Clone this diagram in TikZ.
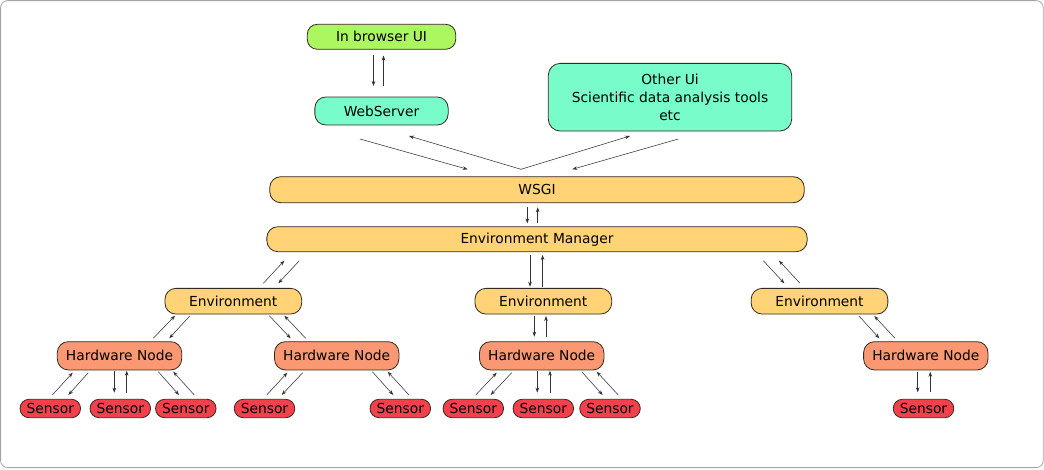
\documentclass[tikz,border=0pt]{standalone}
\usepackage{fontspec}
\setmainfont{DejaVu Sans}
\usetikzlibrary{arrows.meta,calc}
\definecolor{cgreen}{RGB}{172,246,96}
\definecolor{caqua}{RGB}{120,253,202}
\definecolor{corange}{RGB}{255,211,118}
\definecolor{csalmon}{RGB}{250,152,115}
\definecolor{cred}{RGB}{242,64,76}
\definecolor{cedge}{RGB}{50,42,30}
\definecolor{cframe}{RGB}{165,165,165}
\begin{document}
\begin{tikzpicture}[x=1pt,y=-1pt,
  box/.style={draw=cedge,line width=0.8pt,inner sep=0pt,align=center,
    font=\fontsize{13.8}{18}\selectfont},
  ui/.style={box,fill=cgreen,rounded corners=10pt},
  srv/.style={box,fill=caqua,rounded corners=11pt},
  bar/.style={box,fill=corange,rounded corners=11pt},
  hwbox/.style={box,fill=csalmon,rounded corners=11pt,minimum width=124.4pt,minimum height=28.3pt},
  envbox/.style={box,fill=corange,rounded corners=11pt,minimum width=136.7pt,minimum height=25.7pt},
  sens/.style={box,fill=cred,rounded corners=9pt,minimum width=60.5pt,minimum height=18.4pt},
  arr/.style={draw=black!80,line width=0.55pt,-{Stealth[length=5pt,width=3.6pt]}}]
\useasboundingbox (0,0) rectangle (1044,469);
\draw[cframe,line width=0.8pt,rounded corners=7pt] (0.6,0.6) rectangle (1043.2,467.6);

% nodes
\node[ui,minimum width=148.4pt,minimum height=25pt] (bui) at (381.5,36.8) {In browser UI};
\node[srv,minimum width=133.3pt,minimum height=28pt] (web) at (381.5,111) {WebServer};
\node[srv,rounded corners=12pt,minimum width=243.4pt,minimum height=67.7pt] (other) at (670,97.2)
  {Other Ui\\Scientific data analysis tools\\etc};
\node[bar,minimum width=534.5pt,minimum height=26pt] (wsgi) at (537,189.7) {WSGI};
\node[bar,minimum width=540.3pt,minimum height=25pt] (em) at (537,239.2) {Environment Manager};
\node[envbox] (envL) at (233.3,301.2) {Environment};
\node[envbox] (envM) at (543.3,301.2) {Environment};
\node[envbox] (envR) at (819.5,301.2) {Environment};
\node[hwbox] (hw1) at (119.5,355.8) {Hardware Node};
\node[hwbox] (hw2) at (336.7,355.8) {Hardware Node};
\node[hwbox] (hw3) at (541.7,355.8) {Hardware Node};
\node[hwbox] (hw4) at (925.8,355.8) {Hardware Node};
\node[sens] (s1) at (50.3,408.5) {Sensor};
\node[sens] (s2) at (120.3,408.5) {Sensor};
\node[sens] (s3) at (185.8,408.5) {Sensor};
\node[sens] (s4) at (264.5,408.5) {Sensor};
\node[sens] (s5) at (400.3,408.5) {Sensor};
\node[sens] (s6) at (473.3,408.5) {Sensor};
\node[sens] (s7) at (543.3,408.5) {Sensor};
\node[sens] (s8) at (610,408.5) {Sensor};
\node[sens] (s9) at (923.5,408.5) {Sensor};

% browser <-> webserver
\draw[arr] ($(bui)+(-8,18.2)$) -- ($(web)+(-8,-25)$);
\draw[arr] ($(web)+(2,-25)$) -- ($(bui)+(2,18.7)$);
% webserver / other <-> wsgi
\draw[arr] ($(web)+(-21.5,28)$) -- ($(wsgi)+(-69.3,-20.4)$);
\draw[arr] ($(wsgi)+(-16,-20.4)$) -- ($(web)+(27.5,25)$);
\draw[arr] ($(wsgi)+(-16,-20.4)$) -- ($(other)+(-40,38.8)$);
\draw[arr] ($(other)+(8.3,41.8)$) -- ($(wsgi)+(35.3,-20.4)$);
% wsgi <-> em
\draw[arr] ($(wsgi)+(-9.7,17.6)$) -- ($(em)+(-9.7,-15.9)$);
\draw[arr] ($(em)+(0.7,-15.9)$) -- ($(wsgi)+(0.7,17.6)$);
% em <-> environments
\draw[arr] ($(envL)+(30,-17.9)$) -- ($(em)+(-252.7,21.5)$);
\draw[arr] ($(em)+(-237.7,21.5)$) -- ($(envL)+(45,-17.9)$);
\draw[arr] ($(em)+(-7,15.8)$) -- ($(envM)+(-13.3,-14.5)$);
\draw[arr] ($(envM)+(-0.7,-14.5)$) -- ($(em)+(5.6,15.8)$);
\draw[arr] ($(em)+(226.3,21.5)$) -- ($(envR)+(-35.2,-17.9)$);
\draw[arr] ($(envR)+(-19.5,-17.9)$) -- ($(em)+(242,21.5)$);
% environments <-> hardware nodes
\draw[arr] ($(hw1)+(33.8,-17.5)$) -- ($(envL)+(-58.3,14.5)$);
\draw[arr] ($(envL)+(-43.3,14.5)$) -- ($(hw1)+(49.8,-17.5)$);
\draw[arr] ($(envL)+(36,14.5)$) -- ($(hw2)+(-46,-17.5)$);
\draw[arr] ($(hw2)+(-31,-17.5)$) -- ($(envL)+(51,14.5)$);
\draw[arr] ($(envM)+(-9,14.8)$) -- ($(hw3)+(-7.4,-19.1)$);
\draw[arr] ($(hw3)+(4.3,-19.1)$) -- ($(envM)+(2.7,14.8)$);
\draw[arr] ($(envR)+(39.5,14.8)$) -- ($(hw4)+(-46.5,-17.5)$);
\draw[arr] ($(hw4)+(-30.8,-17.5)$) -- ($(envR)+(54.8,14.8)$);
% hardware nodes <-> sensors
\draw[arr] ($(s1)+(2,-13.5)$) -- ($(hw1)+(-46.8,16.9)$);
\draw[arr] ($(hw1)+(-31.2,16.9)$) -- ($(s1)+(18,-13.5)$);
\draw[arr] ($(hw1)+(-5.2,14.9)$) -- ($(s2)+(-6,-15.8)$);
\draw[arr] ($(s2)+(6.4,-15.8)$) -- ($(hw1)+(7.2,14.9)$);
\draw[arr] ($(hw1)+(38.8,15.9)$) -- ($(s3)+(-6.8,-13.5)$);
\draw[arr] ($(s3)+(8.5,-13.5)$) -- ($(hw1)+(53.8,15.9)$);
\draw[arr] ($(s4)+(2.2,-13.5)$) -- ($(hw2)+(-49.4,16.9)$);
\draw[arr] ($(hw2)+(-34,16.9)$) -- ($(s4)+(17.2,-13.5)$);
\draw[arr] ($(hw2)+(35.6,15.9)$) -- ($(s5)+(-7,-13.5)$);
\draw[arr] ($(s5)+(8.7,-13.5)$) -- ($(hw2)+(51,15.9)$);
\draw[arr] ($(s6)+(2.4,-13.5)$) -- ($(hw3)+(-45,16.9)$);
\draw[arr] ($(hw3)+(-30,16.9)$) -- ($(s6)+(17.4,-13.5)$);
\draw[arr] ($(hw3)+(-4.4,14.9)$) -- ($(s7)+(-6,-15.8)$);
\draw[arr] ($(s7)+(6.7,-15.8)$) -- ($(hw3)+(8.3,14.9)$);
\draw[arr] ($(hw3)+(40,15.9)$) -- ($(s8)+(-7.3,-13.5)$);
\draw[arr] ($(s8)+(8.3,-13.5)$) -- ($(hw3)+(55,15.9)$);
\draw[arr] ($(hw4)+(-8.1,15.9)$) -- ($(s9)+(-5.8,-16.2)$);
\draw[arr] ($(s9)+(6.8,-16.2)$) -- ($(hw4)+(4.5,15.9)$);
\end{tikzpicture}
\end{document}
